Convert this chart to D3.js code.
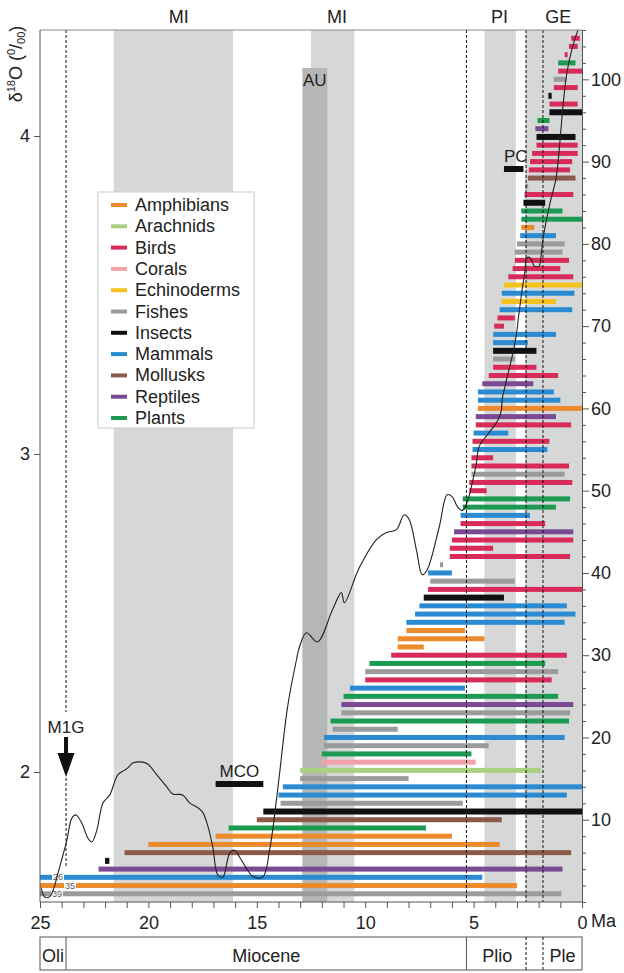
<!DOCTYPE html>
<html><head><meta charset="utf-8">
<script src="https://cdn.jsdelivr.net/npm/d3@7/dist/d3.min.js"></script>
<style>
body{margin:0;background:#fff;}
svg{display:block;font-family:"Liberation Sans",Arial,sans-serif;}
</style></head><body>
<svg id="chart" width="624" height="973"></svg>
<script>
// ---------------- DATA ----------------
const groups = ["Amphibians","Arachnids","Birds","Corals","Echinoderms","Fishes","Insects","Mammals","Mollusks","Reptiles","Plants"];
const groupCodes = ["Am","Ar","Bi","Co","Ec","Fi","In","Ma","Mo","Re","Pl"];
const groupColors = ["#ec8a2c","#a9d17e","#d92b5a","#f2a1a9","#f3c21f","#9b9b9b","#111111","#2a8bd3","#8c5a4b","#7a4a92","#1c9a52"];

// lineages, index 1..105 (bottom to top)
const barGroup = ["Fi","Am","Ma","Re","In","Mo","Am","Am","Pl","Mo",
  "In","Fi","Ma","Ma","Fi","Ar","Co","Pl","Fi","Ma",
  "Fi","Pl","Fi","Re","Pl","Ma","Bi","Fi","Pl","Bi",
  "Am","Am","Am","Ma","Ma","Ma","In","Bi","Fi","Ma",
  "Fi","Bi","Bi","Bi","Re","Bi","Ma","Pl","Pl","Bi",
  "Bi","Fi","Bi","Bi","Ma","Bi","Ma","Bi","Re","Am",
  "Ma","Ma","Re","Bi","Bi","Fi","In","Ma","Ma","Bi",
  "Bi","Ma","Ec","Ma","Ec","Bi","Bi","Bi","Fi","Fi",
  "Ma","Am","Pl","Pl","In","Bi","Fi","Mo","Bi","Bi",
  "Bi","Bi","In","Re","Pl","In","Bi","In","Bi","Fi",
  "Bi","Pl","Bi","Bi","Bi"];
const barStart = [25,25,25,22.3,22.0,21.1,20.0,16.9,16.3,15.0,
  14.7,13.9,14.0,13.8,13.0,13.0,12.0,12.0,11.9,11.9,
  11.5,11.6,11.1,11.1,11.0,10.7,10.0,10.0,9.8,8.8,
  8.5,8.5,8.1,8.1,7.7,7.5,7.3,7.1,7.0,7.1,
  6.55,6.1,6.1,6.0,5.9,5.6,5.6,5.5,5.5,5.2,
  5.2,5.1,5.1,5.1,5.05,5.05,5.0,4.9,4.9,4.8,
  4.8,4.8,4.6,4.3,4.1,4.1,4.1,4.1,4.1,4.05,
  3.9,3.8,3.7,3.7,3.6,3.4,3.2,3.1,3.1,3.0,
  2.85,2.8,2.8,2.8,2.7,2.65,2.62,2.5,2.45,2.4,
  2.3,2.1,2.1,2.15,2.05,1.5,1.5,1.55,1.3,1.3,
  1.1,1.1,0.8,0.6,0.5];
const barEnd = [0.95,3.0,4.6,0.9,21.8,0.5,3.8,6.0,7.2,3.7,
  0,5.5,0.7,0,8.0,1.9,4.9,5.1,4.3,0.8,
  8.5,0.6,0.55,0.4,1.1,5.4,1.4,1.1,1.7,0.7,
  7.3,4.5,5.4,0.8,0.3,0.7,3.6,0,3.1,6.0,
  6.45,0.55,4.1,0.4,0.4,1.7,2.4,1.2,0.55,4.4,
  0.45,0.8,0.6,4.1,1.6,1.5,3.4,0.5,1.2,0,
  1.0,1.3,2.25,1.1,2.1,3.1,2.1,2.5,1.2,3.6,
  3.1,0.45,1.2,0.35,0,0.4,1.0,0.6,0.9,0.8,
  1.2,2.2,0,0.9,1.7,0.4,2.55,0.3,0.55,0.45,
  0.2,0.2,0.3,1.55,1.5,0,0.2,1.4,0.2,0.7,
  0,0.3,0.7,0.2,0.1];
// truncated bars (true origin in Ma)
const truncIndex = [1,2,3];
const truncLabel = ["39","35","26"];

// benthic oxygen isotope curve
const curveAge = [24.95,24.77,24.54,24.36,24.17,23.94,23.76,23.53,23.34,23.07,22.79,22.61,22.38,22.10,21.78,21.41,21.09,20.95,20.72,20.26,20.03,19.61,19.15,18.88,18.42,18.09,17.77,17.50,17.27,17.03,16.80,16.57,16.25,16.02,15.79,15.42,15.19,14.73,14.41,14.04,13.58,13.17,13.03,12.71,12.20,11.51,11.10,10.96,10.27,9.48,9.02,8.56,8.20,7.97,7.64,7.37,7.14,6.58,6.22,5.99,5.75,5.52,5.29,5.06,4.88,4.74,4.28,3.91,3.73,3.68,3.50,3.22,3.04,2.90,2.76,2.62,2.58,2.44,2.30,2.21,1.98,1.89,1.80,1.66,1.43,1.20,1.06,0.97,0.83,0.69,0.46,0.14];
const curveD18O = [1.635,1.606,1.609,1.635,1.682,1.739,1.786,1.855,1.865,1.839,1.792,1.780,1.817,1.902,1.928,1.991,2.006,2.013,2.028,2.031,2.025,1.991,1.953,1.931,1.928,1.902,1.890,1.874,1.833,1.764,1.676,1.669,1.745,1.754,1.732,1.691,1.672,1.669,1.754,1.943,2.205,2.353,2.394,2.438,2.409,2.510,2.564,2.532,2.643,2.731,2.753,2.762,2.809,2.794,2.699,2.620,2.636,2.772,2.872,2.866,2.835,2.822,2.850,2.910,2.967,3.024,3.068,3.102,3.134,3.172,3.228,3.307,3.370,3.446,3.518,3.581,3.613,3.619,3.606,3.591,3.591,3.622,3.676,3.729,3.802,3.865,3.950,4.022,4.126,4.202,4.274,4.343];

// climatic intervals
const bandFrom = [21.6,12.5,4.5,2.62];
const bandTo = [16.1,10.5,3.05,0];
const bandLabels = ["MI","MI","PI","GE"];
const bandLabelAge = [18.6,11.3,3.8,1.1];
const auFrom = 12.9, auTo = 11.75;
const boundaries = [23.8,5.33,2.58,1.8];
const epochNames = ["Oli","Miocene","Plio","Ple"];
const epochFrom = [25,23.8,5.33,1.8];
const epochTo = [23.8,5.33,2.58,0];
const mcoFrom = 16.9, mcoTo = 14.7;
const pcFrom = 3.6, pcTo = 2.7;
const xTicksMajor = [25,20,15,10,5,0];
const yLeftTicks = [2,3,4];
const yRightTicks = [10,20,30,40,50,60,70,80,90,100];

// ---------------- CHART ----------------
const svg = d3.select("#chart");
const L = 40, R = 582, T = 30, B = 902;
const x = d3.scaleLinear().domain([25,0]).range([L,R]);
const yR = d3.scaleLinear().domain([0,106]).range([B,T]);
const yL = d3.scaleLinear().domain([2,3]).range([772,454]);
const color = d3.scaleOrdinal().domain(groupCodes).range(groupColors);

const bandFill = "#d6d8d8", auFill = "#b5b7b7";

// bands
const gBands = svg.append("g");
bandFrom.forEach((f,i)=>{
  gBands.append("rect").attr("x",x(f)).attr("y",T).attr("width",x(bandTo[i])-x(f)).attr("height",B-T).attr("fill",bandFill);
  svg.append("text").attr("x",x(bandLabelAge[i])).attr("y",23).attr("text-anchor","middle")
     .attr("font-size",18).attr("fill","#222").text(bandLabels[i]);
});
gBands.append("rect").attr("x",x(auFrom)).attr("y",68).attr("width",x(auTo)-x(auFrom)).attr("height",B-68).attr("fill",auFill);
svg.append("text").attr("x",(x(auFrom)+x(auTo))/2).attr("y",86).attr("text-anchor","middle")
   .attr("font-size",17).attr("fill","#222").text("AU");

// bars
const bars = barGroup.map((g,i)=>({i:i+1,g,s:barStart[i],e:barEnd[i]}));
svg.append("g").selectAll("rect").data(bars).join("rect")
  .attr("x",d=>x(d.s))
  .attr("width",d=>Math.max(3,x(d.e)-x(d.s)))
  .attr("y",d=>yR(d.i)-(d.g==="In"?3:2.5))
  .attr("height",d=>d.g==="In"?6:5)
  .attr("fill",d=>color(d.g));

// truncated labels
truncIndex.forEach((idx,k)=>{
  const xs = [57,70,58][k];
  const t = svg.append("text").attr("x",xs).attr("y",yR(idx)+3).attr("text-anchor","middle")
    .attr("font-size",9).attr("fill","#555").text(truncLabel[k]);
  const bb = t.node().getBBox();
  svg.insert("rect", function(){return t.node();}).attr("x",bb.x-1).attr("y",yR(idx)-3).attr("width",bb.width+2).attr("height",6).attr("fill","#fff");
});

// dashed boundaries
const gDash = svg.append("g").attr("stroke","#111").attr("stroke-width",1).attr("stroke-dasharray","3,2");
boundaries.forEach((b,i)=>{
  if(i===0){
    gDash.append("line").attr("x1",x(b)).attr("x2",x(b)).attr("y1",T).attr("y2",712);
    gDash.append("line").attr("x1",x(b)).attr("x2",x(b)).attr("y1",778).attr("y2",868);
  } else {
    gDash.append("line").attr("x1",x(b)).attr("x2",x(b)).attr("y1",T).attr("y2",B);
  }
});

// curve
svg.append("clipPath").attr("id","clip").append("rect").attr("x",L).attr("y",T).attr("width",R-L).attr("height",B-T);
const line = d3.line().x((d,i)=>x(curveAge[i])).y((d,i)=>yL(curveD18O[i])).curve(d3.curveCatmullRom.alpha(0.5));
svg.append("path").attr("d",line(curveAge)).attr("fill","none").attr("stroke","#222").attr("stroke-width",1.1).attr("clip-path","url(#clip)");

// MCO / PC annotations
svg.append("rect").attr("x",x(mcoFrom)).attr("y",781).attr("width",x(mcoTo)-x(mcoFrom)).attr("height",6).attr("fill","#111");
svg.append("text").attr("x",(x(mcoFrom)+x(mcoTo))/2).attr("y",777).attr("text-anchor","middle").attr("font-size",17).attr("fill","#222").text("MCO");
svg.append("rect").attr("x",x(pcFrom)).attr("y",166).attr("width",x(pcTo)-x(pcFrom)).attr("height",6).attr("fill","#111");
svg.append("text").attr("x",(x(pcFrom)+x(pcTo))/2+2).attr("y",162).attr("text-anchor","middle").attr("font-size",17).attr("fill","#222").text("PC");

// M1G arrow
const ax = x(boundaries[0]);
svg.append("text").attr("x",ax).attr("y",733).attr("text-anchor","middle").attr("font-size",17).attr("fill","#222").text("M1G");
svg.append("rect").attr("x",ax-2).attr("y",737).attr("width",4).attr("height",18).attr("fill","#111");
svg.append("path").attr("d",`M${ax-8.5},753 L${ax+8.5},753 L${ax},777 Z`).attr("fill","#111");

// frame top
svg.append("line").attr("x1",L).attr("x2",R).attr("y1",T).attr("y2",T).attr("stroke","#888").attr("stroke-width",1);

// axes
const axisColor = "#555";
const gx = svg.append("g").attr("transform",`translate(0,${B})`)
  .call(d3.axisBottom(x).tickValues(d3.range(0,26)).tickSize(6).tickPadding(8)
  .tickFormat(d=>xTicksMajor.includes(d)?d:""));
const gl = svg.append("g").attr("transform",`translate(${L},0)`)
  .call(d3.axisLeft(yL).tickValues(yLeftTicks).tickSize(6).tickPadding(4).tickFormat(d3.format("d")));
gl.select(".domain").attr("d",`M0,${T}V${B}`);
const gr = svg.append("g").attr("transform",`translate(${R},0)`)
  .call(d3.axisRight(yR).tickValues(d3.range(0,107,2)).tickSize(4).tickPadding(5)
  .tickFormat(d=>yRightTicks.includes(d)?d:""));
gr.selectAll(".tick line").attr("x2",d=>yRightTicks.includes(d)?7:4);
[gx,gl,gr].forEach(g=>{
  g.select(".domain").attr("stroke",axisColor);
  g.selectAll(".tick line").attr("stroke",axisColor);
  g.selectAll("text").attr("font-size",18).attr("fill","#222").attr("font-family","Liberation Sans, Arial, sans-serif");
});
gx.selectAll(".domain").attr("d",`M${L},0H${R}`);
svg.append("text").attr("x",591).attr("y",B+25).attr("font-size",18).attr("fill","#222").text("Ma");

// y-axis title
const yt = svg.append("text").attr("transform","translate(22,64) rotate(-90)").attr("text-anchor","middle")
  .attr("font-size",18).attr("fill","#222");
yt.append("tspan").text("δ");
yt.append("tspan").attr("font-size",11).attr("dy",-7).text("18");
yt.append("tspan").attr("dy",7).text("O (");
yt.append("tspan").attr("font-size",11).attr("dy",-7).text("0");
yt.append("tspan").attr("dy",7).text("/");
yt.append("tspan").attr("font-size",11).attr("dy",3).text("00");
yt.append("tspan").attr("dy",-3).text(")");

// epoch box
const eTop = 937, eBot = 970;
svg.append("rect").attr("x",L).attr("y",eTop).attr("width",R-L).attr("height",eBot-eTop).attr("fill","none").attr("stroke",axisColor);
epochNames.forEach((n,i)=>{
  svg.append("text").attr("x",(x(epochFrom[i])+x(epochTo[i]))/2+(i===2?1:0)).attr("y",962).attr("text-anchor","middle")
    .attr("font-size",18).attr("fill","#222").text(n);
});
[23.8,5.33].forEach(b=>svg.append("line").attr("x1",x(b)).attr("x2",x(b)).attr("y1",eTop).attr("y2",eBot).attr("stroke",axisColor));
[2.58,1.8].forEach(b=>svg.append("line").attr("x1",x(b)).attr("x2",x(b)).attr("y1",eTop).attr("y2",eBot).attr("stroke","#111").attr("stroke-dasharray","3,2"));

// legend
const lg = svg.append("g");
lg.append("rect").attr("x",98).attr("y",192).attr("width",156).attr("height",236).attr("fill","#fff").attr("stroke","#ccc");
groups.forEach((g,i)=>{
  const yy = 205 + i*21.3;
  lg.append("line").attr("x1",111).attr("x2",127).attr("y1",yy).attr("y2",yy).attr("stroke",groupColors[i]).attr("stroke-width",4);
  lg.append("text").attr("x",135).attr("y",yy+6).attr("font-size",18).attr("fill","#222").text(g);
});
</script>
</body></html>
